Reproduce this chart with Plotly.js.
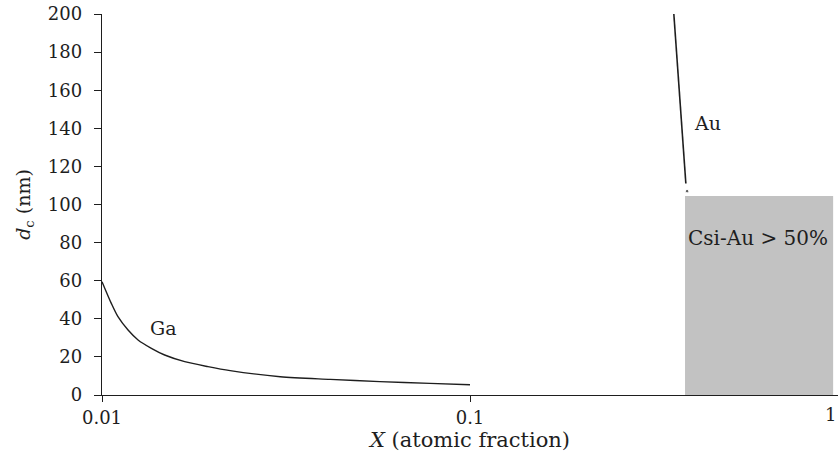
<!DOCTYPE html>
<html>
<head>
<meta charset="utf-8">
<script src="https://cdn.plot.ly/plotly-3.0.1.min.js"></script>
<style>
  html, body { margin: 0; padding: 0; background: #fff; }
  #chart { width: 838px; height: 452px; }
</style>
</head>
<body>
<div id="chart"></div>
<script>
// Critical diameter d_c (nm) versus atomic fraction X (log scale)
const gaX = [0.01, 0.0106, 0.01105, 0.01177, 0.01253, 0.01362, 0.0148, 0.01678, 0.01941, 0.0223, 0.0305, 0.0417, 0.0569, 0.0778, 0.1];
const gaY = [59.5, 48.1, 41.1, 34.1, 28.9, 24.5, 21.0, 17.5, 14.9, 12.8, 9.6, 8.2, 7.0, 6.1, 5.4];

const auX = [0.358, 0.3739, 0.386, null, 0.389];
const auY = [200, 150, 111, null, 107];

// Region where Csi-Au exceeds 50 %
const regionX = [0.384, 0.97];
const regionTop = 104.5;

const xTickVals = [0.01, 0.1];
const xTickText = ['0.01', '0.1'];
const xEndLabel = '1';
const yTickVals = [0, 20, 40, 60, 80, 100, 120, 140, 160, 180, 200];

const serif = 'DejaVu Serif, Liberation Serif, serif';
const ink = '#1e1e1e';

const traces = [
  {
    x: [regionX[0], regionX[1], regionX[1], regionX[0], regionX[0]],
    y: [0, 0, regionTop, regionTop, 0],
    mode: 'lines',
    fill: 'toself',
    fillcolor: '#c2c2c2',
    line: { width: 0 },
    hoverinfo: 'skip'
  },
  {
    x: gaX, y: gaY,
    mode: 'lines',
    line: { color: ink, width: 1.4, shape: 'spline', smoothing: 0.8 }
  },
  {
    x: auX, y: auY,
    mode: 'lines+markers',
    line: { color: ink, width: 1.6 },
    marker: { color: ink, size: [0, 0, 0, 0, 3.5] }
  }
];

const layout = {
  width: 838,
  height: 452,
  margin: { l: 102, r: 0, t: 14, b: 57 },
  paper_bgcolor: '#ffffff',
  plot_bgcolor: '#ffffff',
  showlegend: false,
  font: { family: serif, color: ink, size: 18 },
  xaxis: {
    type: 'log',
    range: [-2, 0],
    tickvals: xTickVals,
    ticktext: xTickText,
    ticks: 'outside',
    ticklen: 6,
    tickcolor: ink,
    showline: true,
    linecolor: ink,
    linewidth: 1.3,
    showgrid: false,
    zeroline: false,
    tickfont: { family: serif, size: 18, color: ink },
    title: {
      text: '<i>X</i> (atomic fraction)',
      font: { family: serif, size: 21, color: ink },
      standoff: 5
    }
  },
  yaxis: {
    range: [0, 200],
    tickvals: yTickVals,
    ticks: 'outside',
    ticklen: 7,
    tickcolor: ink,
    showline: true,
    linecolor: ink,
    linewidth: 1.3,
    showgrid: false,
    zeroline: false,
    ticklabelstandoff: 8,
    tickfont: { family: serif, size: 18, color: ink },
    title: {
      text: '<i>d</i><sub>c</sub> (nm)',
      font: { family: serif, size: 19, color: ink },
      standoff: 12
    }
  },
  annotations: [
    // end label of the log axis, kept just inside the right edge
    { x: 0, y: 0, xref: 'x', yref: 'paper', text: xEndLabel, showarrow: false,
      xanchor: 'right', yanchor: 'top', yshift: -7,
      font: { family: serif, size: 18, color: ink } },
    { x: Math.log10(0.01333), y: 35.2, xref: 'x', yref: 'y', text: 'Ga', showarrow: false,
      xanchor: 'left', yanchor: 'middle', font: { family: serif, size: 19, color: ink } },
    { x: Math.log10(0.401), y: 143, xref: 'x', yref: 'y', text: 'Au', showarrow: false,
      xanchor: 'left', yanchor: 'middle', font: { family: serif, size: 19, color: ink } },
    { x: Math.log10(0.386), y: 82.4, xref: 'x', yref: 'y', text: 'Csi-Au &gt; 50%', showarrow: false,
      xanchor: 'left', yanchor: 'middle', font: { family: serif, size: 20, color: ink } }
  ]
};

Plotly.newPlot('chart', traces, layout, { displayModeBar: false, staticPlot: true });
</script>
</body>
</html>
